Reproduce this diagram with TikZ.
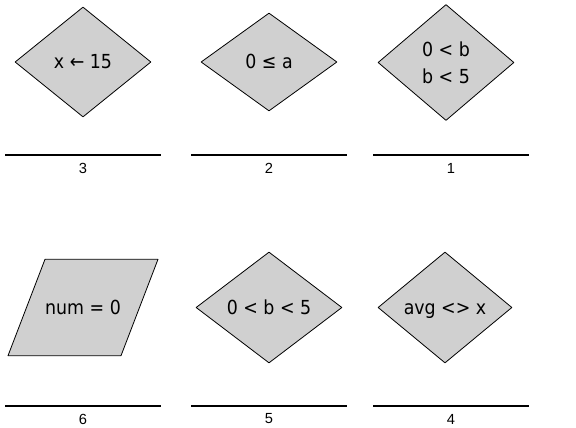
\documentclass[tikz,border=0pt]{standalone}
\usepackage{fontspec}
\usetikzlibrary{shapes.geometric}
\newfontfamily\boxfont{DejaVu Sans Condensed}
\newfontfamily\numfont{Liberation Sans}
\definecolor{boxgray}{RGB}{208,208,208}
\begin{document}
\begin{tikzpicture}[x=0.75pt, y=-0.75pt, line join=round,
    decision/.style={diamond, draw=black, fill=boxgray, inner sep=0pt, line width=0.6pt,
      font=\boxfont\fontsize{14.5}{20}\selectfont, align=center},
    oneline/.style={text height=13pt, text depth=2.6pt},
    label/.style={font=\boxfont\fontsize{14.5}{20}\selectfont, inner sep=0pt},
    shapeline/.style={draw=black, fill=boxgray, line width=0.6pt},
    rule/.style={line width=0.9pt},
    num/.style={font=\numfont\fontsize{11}{12}\selectfont, inner sep=0pt}]
  \useasboundingbox (0,0) rectangle (576,428);

  % top row
  \node[decision, oneline, minimum width=102pt, minimum height=82.5pt] (d3) at (83,62) {x ← 15};
  \node[decision, oneline, minimum width=102pt, minimum height=73.5pt] (d2) at (269,62) {0 ≤ a};
  \node[decision, minimum width=102pt, minimum height=87pt] (d1) at (446,62.5) {0 < b\\b < 5};

  % bottom row
  \path[shapeline] (8,355.7) -- (45,259.3) -- (158,259.3) -- (121,355.7) -- cycle;
  \node[label, oneline] (d6) at (83,307.5) {num = 0};
  \node[decision, oneline, minimum width=109.5pt, minimum height=83.25pt] (d5) at (269,307.5) {0 < b < 5};
  \node[decision, oneline, minimum width=100.5pt, minimum height=83.25pt] (d4) at (445,307.5) {avg <> x};

  % answer lines
  \foreach \n/\x/\y in {3/83/155, 2/269/155, 1/451/155, 6/83/406, 5/269/406, 4/451/406} {
    \draw[rule] (\x-78,\y) -- (\x+78,\y);
    \node[num] (n\n) at (\x,\y+13) {\n};
  }
\end{tikzpicture}
\end{document}
